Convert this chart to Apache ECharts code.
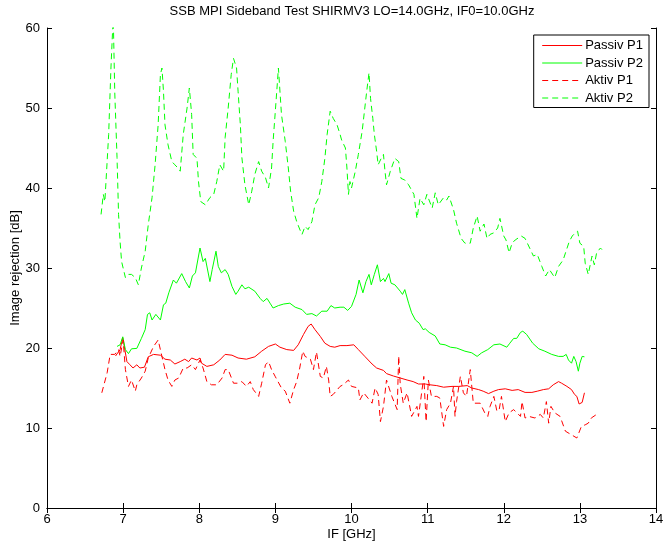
<!DOCTYPE html>
<html>
<head>
<meta charset="utf-8">
<script src="https://cdn.jsdelivr.net/npm/echarts@6/dist/echarts.min.js"></script>
<style>html,body{margin:0;padding:0;background:#fff}#c{width:665px;height:543px}</style>
</head>
<body>
<div id="c"></div>
<script>
var titleText = "SSB MPI Sideband Test SHIRMV3 LO=14.0GHz, IF0=10.0GHz";
var xName = "IF [GHz]";
var yName = "Image rejection [dB]";
var seriesNames = ["Passiv P1", "Passiv P2", "Aktiv P1", "Aktiv P2"];

var passivP1X = [6.90,6.96,6.995,7.05,7.09,7.13,7.18,7.22,7.28,7.33,7.40,7.49,7.55,7.62,7.68,7.75,7.81,7.86,7.90,7.97,8.01,8.03,8.10,8.19,8.27,8.34,8.43,8.51,8.62,8.73,8.82,8.91,9.00,9.06,9.15,9.24,9.30,9.37,9.43,9.47,9.52,9.59,9.65,9.72,9.78,9.85,9.94,10.03,10.09,10.18,10.27,10.33,10.42,10.46,10.55,10.64,10.73,10.81,10.88,10.97,11.03,11.12,11.21,11.32,11.41,11.52,11.58,11.67,11.73,11.80,11.87,11.93,12.02,12.11,12.19,12.28,12.37,12.44,12.52,12.59,12.65,12.72,12.76,12.83,12.89,12.93,12.96,12.99,13.03,13.06];
var passivP1Y = [19.0,19.8,21.3,18.3,17.9,17.5,17.9,17.5,17.6,18.9,19.2,19.1,18.6,18.5,18.0,18.3,18.6,18.3,18.75,18.5,18.75,18.1,17.7,17.9,18.5,19.2,19.1,18.75,18.6,18.9,19.6,20.2,20.5,20.1,19.8,19.7,20.4,21.7,22.7,23.0,22.3,21.45,20.6,20.2,20.1,20.3,20.3,20.4,19.8,18.9,18.0,17.5,17.2,16.8,16.5,16.25,16.0,15.8,15.5,15.5,15.4,15.3,15.1,15.2,15.2,15.3,15.0,14.8,14.6,14.3,14.6,14.8,14.9,14.7,14.8,14.45,14.45,14.6,14.8,14.9,15.4,15.8,15.6,15.2,14.8,14.2,13.95,13.0,13.2,14.4];

var passivP2X = [6.92,6.96,6.995,7.03,7.07,7.11,7.18,7.24,7.29,7.32,7.35,7.38,7.43,7.49,7.53,7.56,7.60,7.66,7.70,7.77,7.82,7.87,7.91,7.95,8.01,8.05,8.08,8.14,8.17,8.22,8.25,8.29,8.34,8.38,8.43,8.48,8.51,8.56,8.60,8.65,8.73,8.80,8.84,8.89,8.93,8.97,9.04,9.11,9.19,9.26,9.35,9.41,9.48,9.54,9.61,9.68,9.73,9.78,9.85,9.90,9.95,10.00,10.06,10.10,10.15,10.19,10.23,10.26,10.30,10.34,10.38,10.42,10.44,10.49,10.52,10.57,10.64,10.67,10.70,10.75,10.79,10.84,10.89,10.94,10.97,11.02,11.10,11.16,11.23,11.30,11.38,11.49,11.58,11.65,11.71,11.79,11.87,11.95,12.04,12.08,12.13,12.17,12.22,12.25,12.30,12.38,12.46,12.54,12.63,12.72,12.78,12.82,12.85,12.89,12.92,12.95,12.98,13.00,13.03,13.06];
var passivP2Y = [20.2,20.4,21.4,19.8,19.3,19.9,19.95,21.2,22.3,24.2,24.4,23.5,24.2,23.5,25.4,25.6,26.9,28.5,28.1,29.3,28.3,27.5,29.0,29.4,32.5,30.8,31.2,28.3,29.8,32.1,30.2,29.4,29.8,29.2,27.7,26.7,27.1,27.9,27.4,27.6,27.1,26.2,25.8,26.2,25.6,25.0,25.3,25.5,25.6,25.1,24.8,24.2,24.3,24.0,24.6,24.6,25.3,25.0,25.1,25.1,24.7,25.2,26.7,28.5,26.9,28.3,29.2,27.9,29.2,30.4,28.3,28.7,28.3,29.3,28.1,27.9,27.1,26.7,27.3,25.6,24.4,23.5,23.1,22.3,22.4,21.95,21.5,20.5,20.4,20.1,20.0,19.6,19.4,18.95,19.4,19.8,20.4,20.5,20.1,20.6,21.2,21.2,21.95,22.1,21.7,20.6,19.9,19.6,19.2,18.95,18.95,19.2,18.5,18.1,18.95,18.3,17.1,18.1,18.95,18.9];

var aktivP1X = [6.72,6.79,6.83,6.89,6.94,6.96,7.00,7.03,7.07,7.11,7.16,7.18,7.24,7.29,7.33,7.40,7.46,7.51,7.55,7.59,7.64,7.68,7.73,7.79,7.84,7.90,7.95,8.01,8.05,8.10,8.16,8.23,8.30,8.34,8.38,8.45,8.51,8.56,8.62,8.67,8.71,8.78,8.82,8.87,8.91,8.95,9.00,9.08,9.13,9.19,9.24,9.28,9.32,9.36,9.39,9.46,9.50,9.54,9.59,9.63,9.67,9.70,9.72,9.76,9.85,9.89,9.96,10.00,10.09,10.11,10.16,10.27,10.31,10.35,10.38,10.42,10.46,10.53,10.60,10.62,10.64,10.68,10.73,10.79,10.86,10.88,10.95,10.98,11.01,11.05,11.12,11.16,11.21,11.25,11.30,11.34,11.36,11.38,11.43,11.47,11.51,11.56,11.60,11.62,11.69,11.75,11.79,11.82,11.87,11.91,11.94,11.97,12.02,12.07,12.13,12.22,12.24,12.28,12.33,12.41,12.48,12.52,12.56,12.59,12.62,12.67,12.74,12.81,12.89,12.96,13.02,13.07,13.11,13.15,13.22,13.27];
var aktivP1Y = [14.4,16.9,19.2,19.2,19.8,18.95,21.0,17.3,15.2,16.0,14.6,15.4,16.25,17.1,18.75,20.2,21.0,18.95,17.3,16.0,15.2,16.0,16.25,17.5,17.5,17.9,17.3,18.5,17.5,15.8,15.4,15.4,16.25,17.3,17.3,15.6,15.6,15.8,15.2,15.8,14.8,13.95,15.6,17.9,18.3,17.3,16.4,15.0,14.6,13.1,14.8,15.8,17.5,19.6,18.95,18.6,17.3,19.5,16.45,16.25,17.7,16.0,13.95,14.2,15.2,15.4,16.0,15.2,15.0,13.5,14.4,13.1,15.0,14.2,10.8,12.7,16.0,13.95,12.3,19.0,15.5,13.1,14.4,11.45,12.7,11.45,16.45,10.8,16.0,13.95,13.95,13.75,10.2,12.3,13.1,15.2,11.45,13.3,16.45,14.4,13.95,17.3,13.1,12.9,13.1,11.9,11.45,12.7,13.95,12.1,12.3,13.95,10.8,11.9,12.3,11.45,13.3,11.25,11.45,11.25,11.7,11.25,13.3,10.6,12.7,11.9,11.45,9.6,9.15,8.75,10.2,10.4,10.6,11.25,11.7];

var aktivP2X = [6.71,6.74,6.76,6.81,6.84,6.87,6.89,6.92,6.94,6.96,6.98,7.03,7.07,7.11,7.16,7.20,7.24,7.29,7.33,7.38,7.42,7.46,7.49,7.51,7.53,7.55,7.59,7.64,7.68,7.72,7.75,7.79,7.84,7.87,7.90,7.92,7.97,7.99,8.02,8.08,8.14,8.19,8.23,8.27,8.32,8.34,8.38,8.42,8.45,8.49,8.51,8.54,8.56,8.60,8.65,8.69,8.73,8.78,8.82,8.87,8.91,8.95,8.97,9.01,9.04,9.08,9.13,9.17,9.20,9.24,9.28,9.33,9.35,9.39,9.43,9.48,9.52,9.57,9.61,9.65,9.68,9.72,9.76,9.81,9.85,9.87,9.92,9.94,9.96,9.98,10.00,10.05,10.09,10.14,10.17,10.20,10.23,10.25,10.28,10.30,10.33,10.35,10.39,10.42,10.44,10.46,10.51,10.57,10.62,10.65,10.70,10.75,10.82,10.86,10.90,10.95,10.99,11.06,11.10,11.14,11.21,11.25,11.28,11.34,11.38,11.44,11.49,11.56,11.60,11.65,11.69,11.74,11.78,11.82,11.87,11.92,11.95,12.00,12.03,12.07,12.11,12.15,12.23,12.28,12.35,12.39,12.44,12.50,12.55,12.60,12.67,12.72,12.78,12.86,12.90,12.94,12.97,13.00,13.05,13.07,13.11,13.14,13.16,13.19,13.22,13.27,13.29];
var aktivP2Y = [36.7,39.2,38.3,46.7,55.0,61.5,52.0,43.8,36.7,33.3,30.8,28.8,29.2,29.2,28.8,27.9,30.0,32.1,35.4,38.8,42.9,47.9,54.2,55.0,52.1,47.9,45.4,43.3,42.9,42.5,42.1,46.7,50.0,52.5,49.2,44.2,43.7,40.8,38.3,37.9,38.8,39.2,40.8,42.9,42.1,46.3,50.0,54.2,56.2,55.0,52.1,47.9,43.8,40.4,37.9,39.6,41.7,43.3,42.1,41.3,40.0,42.5,45.8,51.0,55.0,49.2,45.8,42.5,39.6,37.1,35.8,34.6,34.2,35.2,34.8,35.8,37.9,38.8,40.8,43.7,46.7,49.6,48.7,47.9,46.7,46.0,45.0,42.5,39.2,40.8,40.0,42.1,44.2,47.1,49.6,52.1,54.4,51.2,48.7,46.7,44.6,42.9,43.7,44.2,42.1,40.4,42.1,43.7,43.3,41.2,41.0,40.4,39.2,36.2,38.7,37.9,39.2,37.5,39.4,37.9,38.8,38.5,39.0,37.3,35.6,33.7,33.1,33.1,35.0,36.5,34.6,35.5,33.7,34.2,34.4,35.0,36.2,34.0,33.5,31.9,33.1,33.5,34.0,33.7,32.3,31.5,31.7,30.2,29.0,29.8,28.8,30.2,31.0,33.3,34.0,34.4,34.6,33.1,32.7,30.6,29.2,30.6,31.5,30.4,31.9,32.5,32.3];

var xMin = 6, xMax = 14, xStep = 1;
var yMin = 0, yMax = 60, yStep = 10;

function zip(xs, ys) { return xs.map(function (x, i) { return [x, ys[i]]; }); }

var FONT = "'Liberation Sans', Arial, Helvetica, sans-serif";
var RED = "#ff0000", GREEN = "#00ff00";
var chart = echarts.init(document.getElementById('c'), null, { renderer: 'canvas' });

function mkSeries(name, data, color, dashed) {
  return {
    name: name, type: 'line', data: data, xAxisIndex: 0, yAxisIndex: 0,
    symbol: 'none', showSymbol: false, clip: true, animation: false,
    lineStyle: { color: color, width: 1, type: dashed ? [6, 4] : 'solid' },
    itemStyle: { color: color }
  };
}

var axisCommon = {
  axisLine: { show: true, lineStyle: { color: '#000', width: 1 } },
  axisTick: { show: true, inside: true, length: 5, lineStyle: { color: '#000' } },
  splitLine: { show: false }
};

chart.setOption({
  animation: false,
  backgroundColor: '#fff',
  title: {
    text: titleText, left: 352, top: 5, textAlign: 'center', padding: 0,
    textStyle: { fontFamily: FONT, fontSize: 13, fontWeight: 'normal', color: '#000' }
  },
  grid: { left: 47, right: 9, top: 28, bottom: 35, containLabel: false, outerBoundsMode: 'none' },
  legend: {
    orient: 'vertical', right: 16, top: 35,
    data: seriesNames,
    itemWidth: 40, itemHeight: 10, itemGap: 4.5,
    padding: [4, 6, 3, 8],
    borderColor: '#000', borderWidth: 1, backgroundColor: '#fff',
    itemStyle: { color: 'rgba(0,0,0,0)', borderWidth: 0, opacity: 0 },
    lineStyle: { width: 1 },
    textStyle: { fontFamily: FONT, fontSize: 13, color: '#000', padding: [0, 0, 0, -2] }
  },
  xAxis: [
    Object.assign({
      type: 'value', min: xMin, max: xMax, interval: xStep, position: 'bottom',
      name: xName, nameLocation: 'middle', nameGap: 20, nameMoveOverlap: false,
      nameTextStyle: { fontFamily: FONT, fontSize: 13, color: '#000' },
      axisLabel: { fontFamily: FONT, fontSize: 13, color: '#000', margin: 5 }
    }, axisCommon),
    Object.assign({
      type: 'value', min: xMin, max: xMax, interval: xStep, position: 'top',
      axisLabel: { show: false }
    }, axisCommon)
  ],
  yAxis: [
    Object.assign({
      type: 'value', min: yMin, max: yMax, interval: yStep, position: 'left',
      name: yName, nameLocation: 'middle', nameGap: 25, nameRotate: 90, nameMoveOverlap: false,
      nameTextStyle: { fontFamily: FONT, fontSize: 13, color: '#000' },
      axisLabel: { fontFamily: FONT, fontSize: 13, color: '#000', margin: 7 }
    }, axisCommon),
    Object.assign({
      type: 'value', min: yMin, max: yMax, interval: yStep, position: 'right',
      axisLabel: { show: false }
    }, axisCommon)
  ],
  series: [
    mkSeries(seriesNames[0], zip(passivP1X, passivP1Y), RED, false),
    mkSeries(seriesNames[1], zip(passivP2X, passivP2Y), GREEN, false),
    mkSeries(seriesNames[2], zip(aktivP1X, aktivP1Y), RED, true),
    mkSeries(seriesNames[3], zip(aktivP2X, aktivP2Y), GREEN, true)
  ]
});
</script>
</body>
</html>
